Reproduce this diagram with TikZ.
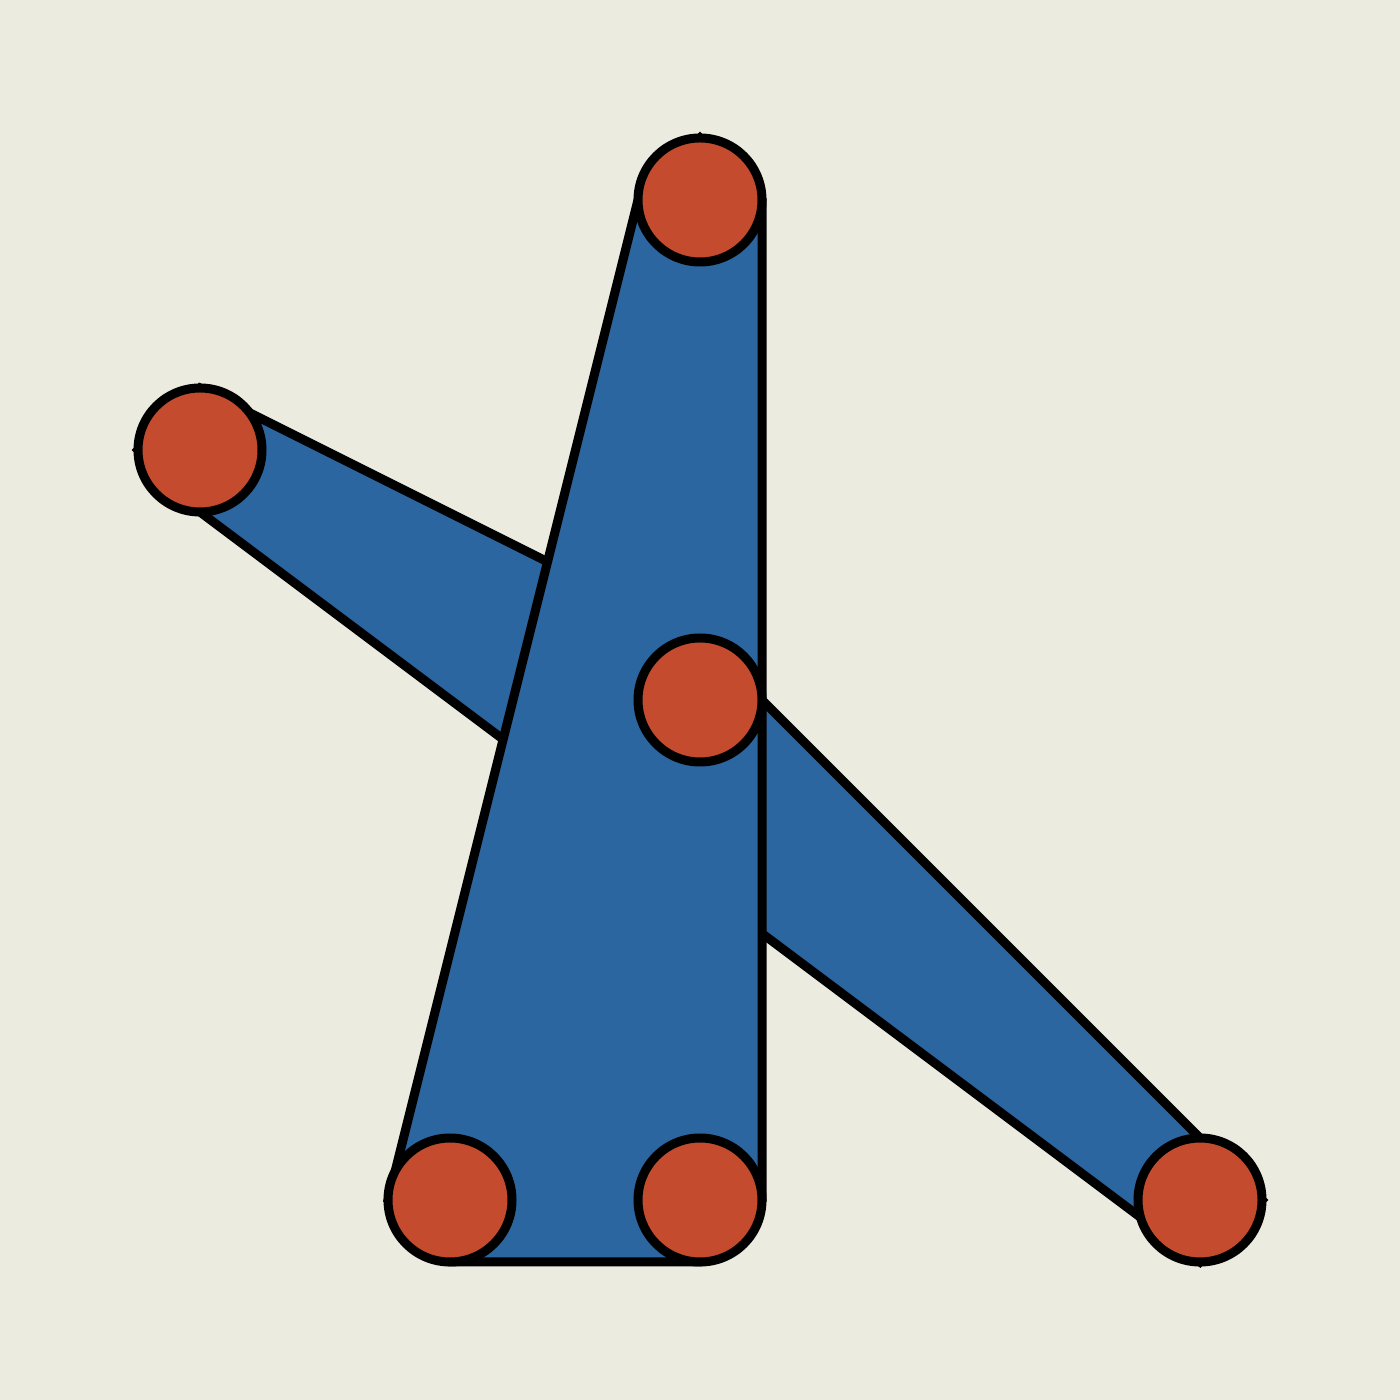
\documentclass[tikz,border=0pt]{standalone}
\definecolor{paper}{HTML}{EBEBDF}
\definecolor{hullblue}{HTML}{2C66A0}
\definecolor{dotred}{HTML}{C44B2D}
\tikzset{
    hull/.style={draw=black, fill=hullblue, line width=0.09cm},
    dot/.style={circle, draw=black, fill=dotred, line width=0.09cm, minimum size=1.24cm, inner sep=0pt}
}
\begin{document}
\begin{tikzpicture}
            \fill[paper] (0,0) rectangle (14,14);
            \useasboundingbox (0,0) rectangle (14,14);

            \coordinate (top) at (7.0, 12.0);
            \coordinate (left) at (2.0, 9.5);
            \coordinate (mid) at (7.0, 7.0);
            \coordinate (bl) at (4.5, 2.0);
            \coordinate (bm) at (7.0, 2.0);
            \coordinate (br) at (12.0, 2.0);

            % back hull
            \draw[hull] ([yshift=6.2mm]left) -- ([yshift=6.2mm]mid) -- ([xshift=6.2mm]br)
                -- ([yshift=-6.2mm]br) -- ([yshift=-6.2mm]left) -- ([xshift=-6.2mm]left) -- cycle;
            % front hull
            \draw[hull] ([yshift=6.2mm]top) -- ([xshift=6.2mm]top) -- ([xshift=6.2mm]bm)
                -- ([yshift=-6.2mm]bm) -- ([yshift=-6.2mm]bl) -- ([xshift=-6.2mm]bl)
                -- ([xshift=-6.2mm]top) -- cycle;

            \node[dot] (ntop) at (top) {};
            \node[dot] (nleft) at (left) {};
            \node[dot] (nmid) at (mid) {};
            \node[dot] (nbl) at (bl) {};
            \node[dot] (nbm) at (bm) {};
            \node[dot] (nbr) at (br) {};
        \end{tikzpicture}
\end{document}
